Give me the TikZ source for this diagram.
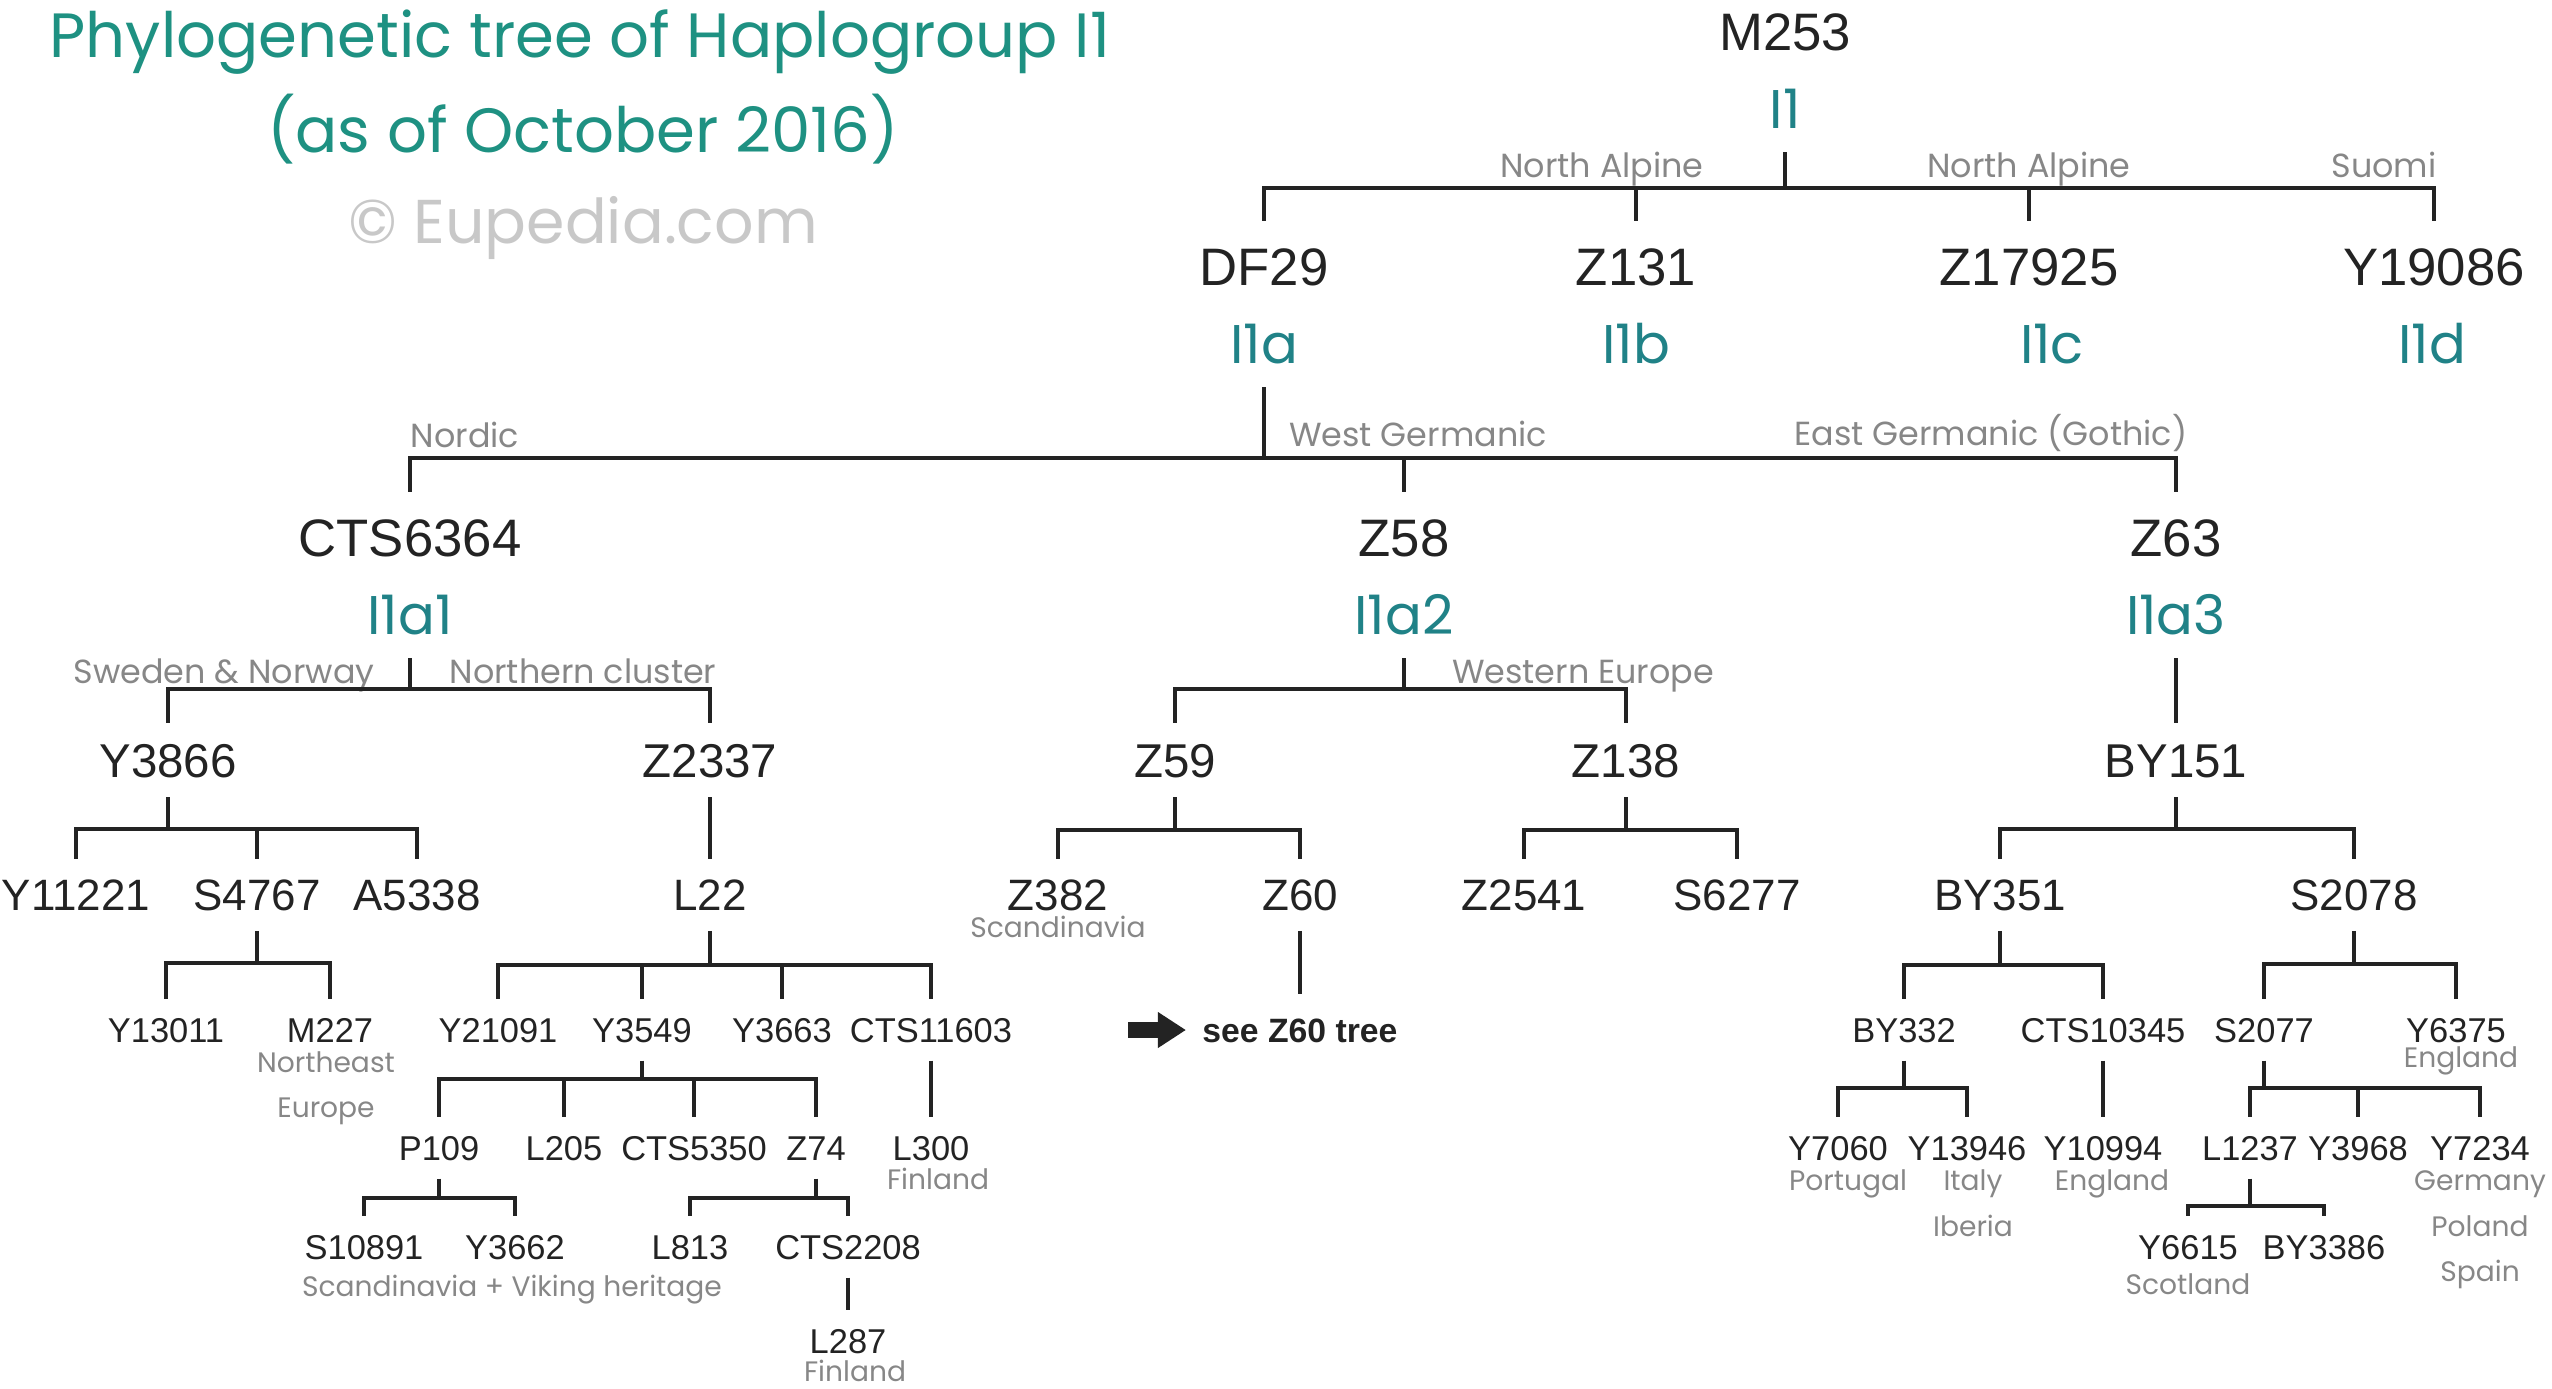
\documentclass[tikz,border=0pt]{standalone}
\usepackage{fontspec}
\setmainfont{Liberation Sans}
\newfontfamily\gothic{Poppins}
\usetikzlibrary{arrows.meta}
\definecolor{mkcol}{RGB}{35,35,35}
\definecolor{hgcol}{RGB}{32,130,135}
\definecolor{ttlcol}{RGB}{30,145,130}
\definecolor{regcol}{RGB}{135,135,135}
\definecolor{wmcol}{RGB}{200,200,200}
\begin{document}
\begin{tikzpicture}[
  big/.style={font=\fontsize{15}{18}\selectfont, text=mkcol, text height=10.8pt, text depth=0pt, inner xsep=2pt, inner ysep=7.5pt},
  mid/.style={font=\fontsize{13.5}{16}\selectfont, text=mkcol, text height=9.7pt, text depth=0pt, inner xsep=2pt, inner ysep=5.5pt},
  lvl/.style={font=\fontsize{12.5}{15}\selectfont, text=mkcol, text height=9pt, text depth=0pt, inner xsep=2pt, inner ysep=5.5pt},
  sml/.style={font=\fontsize{9.8}{12}\selectfont, text=mkcol, text height=7pt, text depth=0pt, inner xsep=2pt, inner ysep=5pt},
  hap/.style={font=\gothic\fontsize{15.5}{18}\selectfont, text=hgcol, text height=10.8pt, text depth=0pt, inner ysep=6.4pt},
  reg/.style={font=\gothic\fontsize{9.5}{11}\selectfont, text=regcol, text height=6.6pt, text depth=0pt, inner sep=0pt},
  note/.style={font=\gothic\fontsize{8}{10}\selectfont, text=regcol, text height=5.6pt, text depth=0pt, inner sep=0pt},
  ttl/.style={font=\gothic\fontsize{17.8}{21}\selectfont, text=ttlcol, text height=12.4pt, text depth=0pt, inner sep=0pt},
  wm/.style={font=\gothic\fontsize{17.6}{21}\selectfont, text=wmcol, text height=12.3pt, text depth=0pt, inner sep=0pt},
  see/.style={font=\bfseries\fontsize{9.6}{12}\selectfont, text=mkcol, text height=7pt, text depth=0pt, inner xsep=4.5pt, inner ysep=6.5pt},
  br/.style={draw=mkcol, line width=0.9pt},
  topbr/.style={draw=mkcol, line width=1.2pt},
  blk/.style={draw=mkcol, line width=4.5pt, -{Triangle[length=0.28cm, width=0.34cm]}}
]
\useasboundingbox (0,0) rectangle (25.52,-13.88);
% title
\node[ttl] at (5.80, -0.36) (title) {Phylogenetic tree of Haplogroup I1};
\node[ttl] at (5.83, -1.31) (date) {(as of October 2016)};
\node[wm] at (5.83, -2.22) (wmark) {\textcopyright{} Eupedia.com};
% root
\node[big] at (17.85, -0.32) (m253) {M253};
\node[hap] at (17.85, -1.10) (i1) {I1};
\coordinate (j0) at (17.85, -1.88);
\node[reg] at (16.02, -1.66) (ra1) {North Alpine};
\node[reg] at (20.29, -1.66) (ra2) {North Alpine};
\node[reg] at (23.84, -1.66) (rsu) {Suomi};
\node[big] at (12.64, -2.67) (df29) {DF29};
\node[big] at (16.36, -2.67) (z131) {Z131};
\node[big] at (20.29, -2.67) (z17925) {Z17925};
\node[big] at (24.34, -2.67) (y19086) {Y19086};
\node[hap] at (12.64, -3.45) (i1a) {I1a};
\node[hap] at (16.36, -3.45) (i1b) {I1b};
\node[hap] at (20.52, -3.45) (i1c) {I1c};
\node[hap] at (24.32, -3.45) (i1d) {I1d};
\draw[topbr] (i1) -- (j0);
\draw[topbr] (j0) -| (df29);
\draw[topbr] (j0) -| (z131);
\draw[topbr] (j0) -| (z17925);
\draw[topbr] (j0) -| (y19086);
% I1a
\coordinate (j1) at (12.64, -4.58);
\node[reg] at (4.65, -4.36) (rnord) {Nordic};
\node[reg] at (14.18, -4.35) (rwg) {West Germanic};
\node[reg] at (19.91, -4.34) (reg) {East Germanic (Gothic)};
\node[big] at (4.10, -5.38) (cts6364) {CTS6364};
\node[big] at (14.04, -5.38) (z58) {Z58};
\node[big] at (21.76, -5.38) (z63) {Z63};
\node[hap] at (4.10, -6.16) (i1a1) {I1a1};
\node[hap] at (14.04, -6.16) (i1a2) {I1a2};
\node[hap] at (21.76, -6.16) (i1a3) {I1a3};
\draw[topbr] (i1a) -- (j1);
\draw[topbr] (j1) -| (cts6364);
\draw[topbr] (j1) -| (z58);
\draw[topbr] (j1) -| (z63);
% I1a1
\coordinate (j2) at (4.10, -6.89);
\node[reg] at (2.24, -6.72) (rswe) {Sweden \& Norway};
\node[reg] at (5.83, -6.72) (rnc) {Northern cluster};
\node[mid] at (1.68, -7.60) (y3866) {Y3866};
\node[mid] at (7.10, -7.60) (z2337) {Z2337};
\draw[br] (i1a1) -- (j2);
\draw[br] (j2) -| (y3866);
\draw[br] (j2) -| (z2337);
\coordinate (j3) at (1.68, -8.29);
\node[lvl] at (0.76, -8.95) (y11221) {Y11221};
\node[lvl] at (2.57, -8.95) (s4767) {S4767};
\node[lvl] at (4.17, -8.95) (a5338) {A5338};
\draw[br] (y3866) -- (j3);
\draw[br] (j3) -| (y11221);
\draw[br] (j3) -| (s4767);
\draw[br] (j3) -| (a5338);
\coordinate (j4) at (2.57, -9.63);
\node[sml] at (1.66, -10.30) (y13011) {Y13011};
\node[sml] at (3.30, -10.30) (m227) {M227};
\node[note] at (3.26, -10.63) (nne) {Northeast};
\node[note] at (3.26, -11.08) (neu) {Europe};
\draw[br] (s4767) -- (j4);
\draw[br] (j4) -| (y13011);
\draw[br] (j4) -| (m227);
\node[lvl] at (7.10, -8.95) (l22) {L22};
\draw[br] (z2337) -- (l22);
\coordinate (j5) at (7.10, -9.65);
\node[sml] at (4.98, -10.30) (y21091) {Y21091};
\node[sml] at (6.42, -10.30) (y3549) {Y3549};
\node[sml] at (7.82, -10.30) (y3663) {Y3663};
\node[sml] at (9.31, -10.30) (cts11603) {CTS11603};
\draw[br] (l22) -- (j5);
\draw[br] (j5) -| (y21091);
\draw[br] (j5) -| (y3549);
\draw[br] (j5) -| (y3663);
\draw[br] (j5) -| (cts11603);
\coordinate (j6) at (6.42, -10.79);
\node[sml] at (4.39, -11.48) (p109) {P109};
\node[sml] at (5.64, -11.48) (l205) {L205};
\node[sml] at (6.94, -11.48) (cts5350) {CTS5350};
\node[sml] at (8.16, -11.48) (z74) {Z74};
\draw[br] (y3549) -- (j6);
\draw[br] (j6) -| (p109);
\draw[br] (j6) -| (l205);
\draw[br] (j6) -| (cts5350);
\draw[br] (j6) -| (z74);
\node[sml] at (9.31, -11.48) (l300) {L300};
\node[note] at (9.38, -11.80) (nfi1) {Finland};
\draw[br] (cts11603) -- (l300);
\coordinate (j7) at (4.39, -11.98);
\node[sml] at (3.64, -12.47) (s10891) {S10891};
\node[sml] at (5.15, -12.47) (y3662) {Y3662};
\node[note] at (5.12, -12.87) (nviking) {Scandinavia + Viking heritage};
\draw[br] (p109) -- (j7);
\draw[br] (j7) -| (s10891);
\draw[br] (j7) -| (y3662);
\coordinate (j8) at (8.16, -11.98);
\node[sml] at (6.90, -12.47) (l813) {L813};
\node[sml] at (8.48, -12.47) (cts2208) {CTS2208};
\draw[br] (z74) -- (j8);
\draw[br] (j8) -| (l813);
\draw[br] (j8) -| (cts2208);
\node[sml] at (8.48, -13.41) (l287) {L287};
\node[note] at (8.55, -13.72) (nfi2) {Finland};
\draw[br] (cts2208) -- (l287);
% I1a2
\coordinate (j9) at (14.04, -6.89);
\node[reg] at (15.83, -6.72) (rwe) {Western Europe};
\node[mid] at (11.75, -7.60) (z59) {Z59};
\node[mid] at (16.26, -7.60) (z138) {Z138};
\draw[br] (i1a2) -- (j9);
\draw[br] (j9) -| (z59);
\draw[br] (j9) -| (z138);
\coordinate (j10) at (11.75, -8.30);
\node[lvl] at (10.58, -8.95) (z382) {Z382};
\node[note] at (10.58, -9.28) (nsc) {Scandinavia};
\node[lvl] at (13.00, -8.95) (z60) {Z60};
\draw[br] (z59) -- (j10);
\draw[br] (j10) -| (z382);
\draw[br] (j10) -| (z60);
\node[see] at (13.00, -10.30) (seez60) {see Z60 tree};
\coordinate (tail) at (11.28, -10.30);
\draw[br] (z60) -- (seez60);
\draw[blk] (tail) -- (seez60);
\coordinate (j11) at (16.26, -8.30);
\node[lvl] at (15.24, -8.95) (z2541) {Z2541};
\node[lvl] at (17.37, -8.95) (s6277) {S6277};
\draw[br] (z138) -- (j11);
\draw[br] (j11) -| (z2541);
\draw[br] (j11) -| (s6277);
% I1a3
\node[mid] at (21.76, -7.60) (by151) {BY151};
\draw[br] (i1a3) -- (by151);
\coordinate (j12) at (21.76, -8.29);
\node[lvl] at (20.00, -8.95) (by351) {BY351};
\node[lvl] at (23.54, -8.95) (s2078) {S2078};
\draw[br] (by151) -- (j12);
\draw[br] (j12) -| (by351);
\draw[br] (j12) -| (s2078);
\coordinate (j13) at (20.00, -9.65);
\node[sml] at (19.04, -10.30) (by332) {BY332};
\node[sml] at (21.03, -10.30) (cts10345) {CTS10345};
\draw[br] (by351) -- (j13);
\draw[br] (j13) -| (by332);
\draw[br] (j13) -| (cts10345);
\coordinate (j14) at (23.54, -9.64);
\node[sml] at (22.64, -10.30) (s2077) {S2077};
\node[sml] at (24.56, -10.30) (y6375) {Y6375};
\node[note] at (24.61, -10.58) (nen1) {England};
\draw[br] (s2078) -- (j14);
\draw[br] (j14) -| (s2077);
\draw[br] (j14) -| (y6375);
\coordinate (j15) at (19.04, -10.88);
\node[sml] at (18.38, -11.48) (y7060) {Y7060};
\node[sml] at (19.67, -11.48) (y13946) {Y13946};
\node[note] at (18.48, -11.81) (npt) {Portugal};
\node[note] at (19.73, -11.81) (nit) {Italy};
\node[note] at (19.73, -12.27) (nib) {Iberia};
\draw[br] (by332) -- (j15);
\draw[br] (j15) -| (y7060);
\draw[br] (j15) -| (y13946);
\node[sml] at (21.03, -11.48) (y10994) {Y10994};
\node[note] at (21.12, -11.81) (nen2) {England};
\draw[br] (cts10345) -- (y10994);
\coordinate (j16) at (22.64, -10.88);
\node[sml] at (22.50, -11.48) (l1237) {L1237};
\node[sml] at (23.58, -11.48) (y3968) {Y3968};
\node[sml] at (24.80, -11.48) (y7234) {Y7234};
\node[note] at (24.80, -11.81) (nde) {Germany};
\node[note] at (24.80, -12.27) (npl) {Poland};
\node[note] at (24.80, -12.72) (nes) {Spain};
\draw[br] (s2077) -- (j16);
\draw[br] (j16) -| (l1237);
\draw[br] (j16) -| (y3968);
\draw[br] (j16) -| (y7234);
\coordinate (j17) at (22.50, -12.06);
\node[sml] at (21.88, -12.47) (y6615) {Y6615};
\node[sml] at (23.24, -12.47) (by3386) {BY3386};
\node[note] at (21.88, -12.85) (nsco) {Scotland};
\draw[br] (l1237) -- (j17);
\draw[br] (j17) -| (y6615);
\draw[br] (j17) -| (by3386);
\end{tikzpicture}
\end{document}
